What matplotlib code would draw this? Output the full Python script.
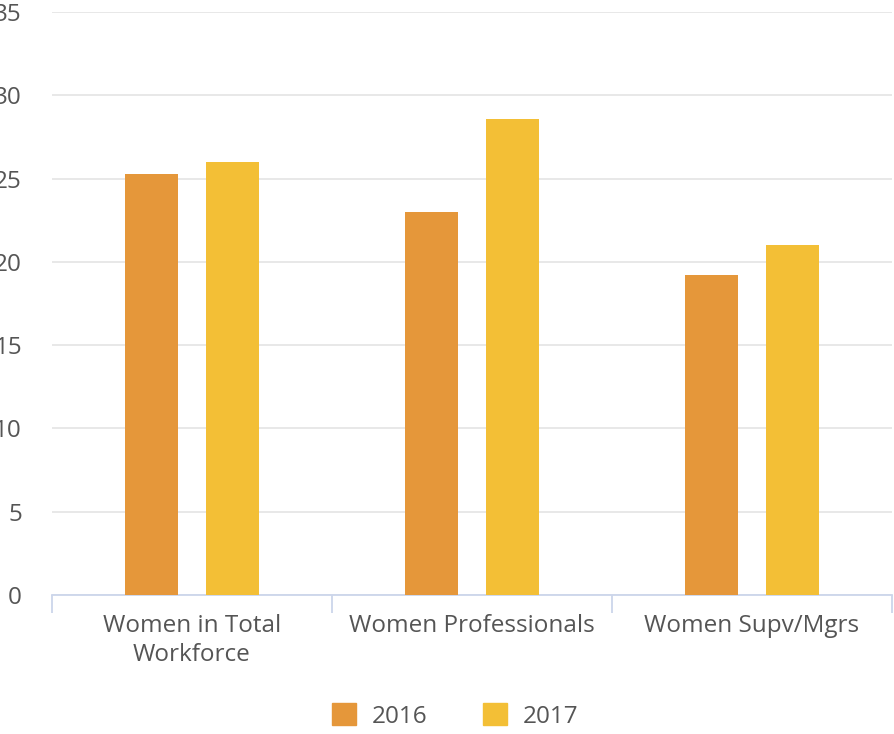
import numpy as np
import matplotlib
matplotlib.use('Agg')
import matplotlib.pyplot as plt
from matplotlib.patches import Patch

categories = ['Women in Total\nWorkforce', 'Women Professionals', 'Women Supv/Mgrs']
years = ['2016', '2017']
vals_2016 = [25.3, 23.0, 19.2]
vals_2017 = [26.0, 28.6, 21.0]
yticks = [0, 5, 10, 15, 20, 25, 30, 35]

col_2016 = '#E5973A'
col_2017 = '#F3BF36'
txt = '#555555'
fs = 17.5

plt.rcParams['font.family'] = ['Open Sans', 'DejaVu Sans']

fig = plt.figure(figsize=(8.95, 7.34), dpi=100)
ax = fig.add_axes([52 / 895, 139 / 734, 840 / 895, 583 / 734])

x = np.arange(len(categories))
w = 0.19
off = 0.145
ax.bar(x - off, vals_2016, w, color=col_2016, zorder=3)
ax.bar(x + off, vals_2017, w, color=col_2017, zorder=3)

ax.set_xlim(-0.5, 2.5)
ax.set_ylim(0, 35)
ax.set_yticks(yticks)
ax.yaxis.grid(True, color='#e6e6e6', linewidth=1.3, zorder=0)
ax.set_xticks(x)
ax.set_xticklabels(categories, fontsize=fs, color=txt, linespacing=1.25)
ax.set_xticks([-0.5, 0.5, 1.5, 2.5], minor=True)
ax.tick_params(axis='x', which='major', length=0, pad=14)
ax.tick_params(axis='x', which='minor', length=13, width=1.3, color='#ccd6eb')
ax.tick_params(axis='y', length=0, pad=21.6, labelsize=fs, labelcolor=txt)

for s in ['top', 'right', 'left']:
    ax.spines[s].set_visible(False)
ax.spines['bottom'].set_color('#ccd6eb')
ax.spines['bottom'].set_linewidth(1.3)

handles = [Patch(color=col_2016, label=years[0]), Patch(color=col_2017, label=years[1])]
fig.legend(handles=handles, loc='center', bbox_to_anchor=(455 / 895, 1 - 716 / 734),
           ncol=2, frameon=False, fontsize=fs, labelcolor=txt,
           handlelength=1.0, handleheight=1.0, handletextpad=0.62, columnspacing=2.3)

fig.savefig('out.png', dpi=100)
